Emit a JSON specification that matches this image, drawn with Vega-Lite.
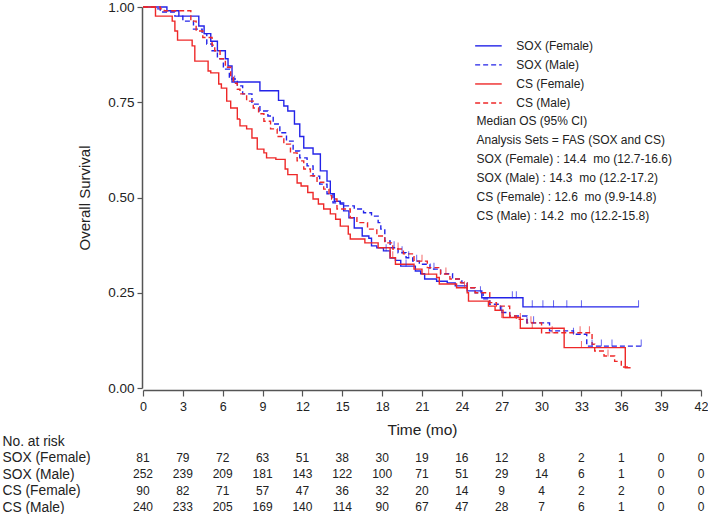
{
  "$schema": "https://vega.github.io/schema/vega-lite/v6.json",
  "padding": {"left": 2, "top": 0, "right": 0, "bottom": 0},
  "background": "white",
  "bounds": "flush",
  "spacing": 45,
  "config": {
    "font": "Liberation Sans",
    "view": {"stroke": null},
    "axis": {"grid": false, "domainColor": "#555555", "domainWidth": 1.5, "tickColor": "#555555", "tickWidth": 1.2, "labelColor": "#222222", "titleColor": "#222222", "titleFontWeight": "normal", "labelFont": "Liberation Sans", "titleFont": "Liberation Sans"},
    "axisX": {"labelOverlap": false, "labelSeparation": -12, "labelFlush": false}
  },
  "datasets": {
    "km": [
      {"g":"SOX (Female)","t":0,"S":1},{"g":"SOX (Female)","t":1.8,"S":0.99},{"g":"SOX (Female)","t":2.7,"S":0.976},{"g":"SOX (Female)","t":4.2,"S":0.95},{"g":"SOX (Female)","t":4.6,"S":0.93},{"g":"SOX (Female)","t":5.1,"S":0.91},{"g":"SOX (Female)","t":5.6,"S":0.885},{"g":"SOX (Female)","t":6.2,"S":0.864},{"g":"SOX (Female)","t":6.4,"S":0.845},{"g":"SOX (Female)","t":6.7,"S":0.803},{"g":"SOX (Female)","t":8.8,"S":0.78},{"g":"SOX (Female)","t":10.2,"S":0.755},{"g":"SOX (Female)","t":10.6,"S":0.74},{"g":"SOX (Female)","t":10.9,"S":0.727},{"g":"SOX (Female)","t":11.4,"S":0.693},{"g":"SOX (Female)","t":11.8,"S":0.66},{"g":"SOX (Female)","t":12.1,"S":0.63},{"g":"SOX (Female)","t":12.8,"S":0.614},{"g":"SOX (Female)","t":13.35,"S":0.57},{"g":"SOX (Female)","t":13.85,"S":0.543},{"g":"SOX (Female)","t":14.1,"S":0.51},{"g":"SOX (Female)","t":14.4,"S":0.49},{"g":"SOX (Female)","t":14.85,"S":0.483},{"g":"SOX (Female)","t":15.1,"S":0.465},{"g":"SOX (Female)","t":15.5,"S":0.447},{"g":"SOX (Female)","t":15.9,"S":0.42},{"g":"SOX (Female)","t":16.5,"S":0.399},{"g":"SOX (Female)","t":17.0,"S":0.393},{"g":"SOX (Female)","t":17.2,"S":0.373},{"g":"SOX (Female)","t":17.6,"S":0.368},{"g":"SOX (Female)","t":18.1,"S":0.36},{"g":"SOX (Female)","t":18.6,"S":0.341},{"g":"SOX (Female)","t":19.0,"S":0.335},{"g":"SOX (Female)","t":19.4,"S":0.32},{"g":"SOX (Female)","t":20.5,"S":0.307},{"g":"SOX (Female)","t":20.9,"S":0.3},{"g":"SOX (Female)","t":21.2,"S":0.286},{"g":"SOX (Female)","t":22.1,"S":0.28},{"g":"SOX (Female)","t":22.9,"S":0.276},{"g":"SOX (Female)","t":23.5,"S":0.268},{"g":"SOX (Female)","t":24.4,"S":0.255},{"g":"SOX (Female)","t":25.5,"S":0.237},{"g":"SOX (Female)","t":28.6,"S":0.213},{"g":"SOX (Female)","t":37.3,"S":0.213},
      {"g":"SOX (Male)","t":0,"S":1},{"g":"SOX (Male)","t":0.9,"S":0.995},{"g":"SOX (Male)","t":1.3,"S":0.987},{"g":"SOX (Male)","t":2.4,"S":0.976},{"g":"SOX (Male)","t":3.0,"S":0.963},{"g":"SOX (Male)","t":3.8,"S":0.942},{"g":"SOX (Male)","t":4.45,"S":0.93},{"g":"SOX (Male)","t":4.8,"S":0.903},{"g":"SOX (Male)","t":5.2,"S":0.885},{"g":"SOX (Male)","t":5.6,"S":0.864},{"g":"SOX (Male)","t":6.05,"S":0.837},{"g":"SOX (Male)","t":6.5,"S":0.811},{"g":"SOX (Male)","t":7.1,"S":0.793},{"g":"SOX (Male)","t":7.5,"S":0.772},{"g":"SOX (Male)","t":8.2,"S":0.745},{"g":"SOX (Male)","t":8.8,"S":0.727},{"g":"SOX (Male)","t":9.4,"S":0.714},{"g":"SOX (Male)","t":9.8,"S":0.693},{"g":"SOX (Male)","t":10.3,"S":0.67},{"g":"SOX (Male)","t":10.8,"S":0.648},{"g":"SOX (Male)","t":11.3,"S":0.622},{"g":"SOX (Male)","t":11.8,"S":0.604},{"g":"SOX (Male)","t":12.35,"S":0.583},{"g":"SOX (Male)","t":12.8,"S":0.556},{"g":"SOX (Male)","t":13.3,"S":0.535},{"g":"SOX (Male)","t":13.85,"S":0.51},{"g":"SOX (Male)","t":14.3,"S":0.486},{"g":"SOX (Male)","t":15.1,"S":0.478},{"g":"SOX (Male)","t":15.9,"S":0.47},{"g":"SOX (Male)","t":16.6,"S":0.46},{"g":"SOX (Male)","t":17.2,"S":0.451},{"g":"SOX (Male)","t":17.7,"S":0.434},{"g":"SOX (Male)","t":17.9,"S":0.417},{"g":"SOX (Male)","t":18.2,"S":0.386},{"g":"SOX (Male)","t":18.6,"S":0.368},{"g":"SOX (Male)","t":19.2,"S":0.355},{"g":"SOX (Male)","t":19.8,"S":0.342},{"g":"SOX (Male)","t":20.3,"S":0.333},{"g":"SOX (Male)","t":20.8,"S":0.325},{"g":"SOX (Male)","t":21.6,"S":0.312},{"g":"SOX (Male)","t":22.4,"S":0.3},{"g":"SOX (Male)","t":23.3,"S":0.286},{"g":"SOX (Male)","t":24.0,"S":0.276},{"g":"SOX (Male)","t":24.4,"S":0.263},{"g":"SOX (Male)","t":25.0,"S":0.25},{"g":"SOX (Male)","t":25.6,"S":0.234},{"g":"SOX (Male)","t":26.1,"S":0.22},{"g":"SOX (Male)","t":26.9,"S":0.198},{"g":"SOX (Male)","t":27.6,"S":0.189},{"g":"SOX (Male)","t":28.9,"S":0.171},{"g":"SOX (Male)","t":30.6,"S":0.15},{"g":"SOX (Male)","t":32.4,"S":0.141},{"g":"SOX (Male)","t":33.4,"S":0.11},{"g":"SOX (Male)","t":37.5,"S":0.11},
      {"g":"CS (Female)","t":0,"S":1},{"g":"CS (Female)","t":0.94,"S":0.976},{"g":"CS (Female)","t":2.2,"S":0.963},{"g":"CS (Female)","t":2.4,"S":0.937},{"g":"CS (Female)","t":2.6,"S":0.913},{"g":"CS (Female)","t":3.7,"S":0.898},{"g":"CS (Female)","t":3.9,"S":0.858},{"g":"CS (Female)","t":4.9,"S":0.832},{"g":"CS (Female)","t":5.1,"S":0.827},{"g":"CS (Female)","t":5.7,"S":0.798},{"g":"CS (Female)","t":5.9,"S":0.787},{"g":"CS (Female)","t":6.3,"S":0.753},{"g":"CS (Female)","t":6.6,"S":0.735},{"g":"CS (Female)","t":7.1,"S":0.706},{"g":"CS (Female)","t":7.3,"S":0.688},{"g":"CS (Female)","t":7.8,"S":0.68},{"g":"CS (Female)","t":8.2,"S":0.656},{"g":"CS (Female)","t":8.6,"S":0.627},{"g":"CS (Female)","t":9.1,"S":0.617},{"g":"CS (Female)","t":9.3,"S":0.604},{"g":"CS (Female)","t":10.0,"S":0.6},{"g":"CS (Female)","t":10.7,"S":0.575},{"g":"CS (Female)","t":10.9,"S":0.56},{"g":"CS (Female)","t":11.6,"S":0.538},{"g":"CS (Female)","t":11.9,"S":0.53},{"g":"CS (Female)","t":12.4,"S":0.513},{"g":"CS (Female)","t":12.8,"S":0.496},{"g":"CS (Female)","t":13.2,"S":0.483},{"g":"CS (Female)","t":13.6,"S":0.47},{"g":"CS (Female)","t":14.1,"S":0.457},{"g":"CS (Female)","t":14.5,"S":0.443},{"g":"CS (Female)","t":14.85,"S":0.425},{"g":"CS (Female)","t":15.45,"S":0.404},{"g":"CS (Female)","t":15.6,"S":0.391},{"g":"CS (Female)","t":16.7,"S":0.381},{"g":"CS (Female)","t":17.7,"S":0.368},{"g":"CS (Female)","t":18.6,"S":0.342},{"g":"CS (Female)","t":19.0,"S":0.325},{"g":"CS (Female)","t":20.4,"S":0.312},{"g":"CS (Female)","t":21.0,"S":0.299},{"g":"CS (Female)","t":22.1,"S":0.29},{"g":"CS (Female)","t":22.3,"S":0.273},{"g":"CS (Female)","t":23.6,"S":0.263},{"g":"CS (Female)","t":24.4,"S":0.25},{"g":"CS (Female)","t":24.5,"S":0.228},{"g":"CS (Female)","t":26.0,"S":0.215},{"g":"CS (Female)","t":26.5,"S":0.204},{"g":"CS (Female)","t":27.1,"S":0.185},{"g":"CS (Female)","t":28.4,"S":0.157},{"g":"CS (Female)","t":31.7,"S":0.106},{"g":"CS (Female)","t":36.3,"S":0.053},{"g":"CS (Female)","t":36.7,"S":0.053},
      {"g":"CS (Male)","t":0,"S":1},{"g":"CS (Male)","t":1.3,"S":0.995},{"g":"CS (Male)","t":1.6,"S":0.99},{"g":"CS (Male)","t":3.6,"S":0.963},{"g":"CS (Male)","t":4.0,"S":0.937},{"g":"CS (Male)","t":4.5,"S":0.92},{"g":"CS (Male)","t":5.2,"S":0.9},{"g":"CS (Male)","t":5.4,"S":0.885},{"g":"CS (Male)","t":5.8,"S":0.864},{"g":"CS (Male)","t":6.2,"S":0.842},{"g":"CS (Male)","t":6.6,"S":0.82},{"g":"CS (Male)","t":6.8,"S":0.8},{"g":"CS (Male)","t":7.1,"S":0.784},{"g":"CS (Male)","t":7.3,"S":0.772},{"g":"CS (Male)","t":7.8,"S":0.753},{"g":"CS (Male)","t":8.3,"S":0.735},{"g":"CS (Male)","t":8.7,"S":0.72},{"g":"CS (Male)","t":9.1,"S":0.7},{"g":"CS (Male)","t":9.6,"S":0.68},{"g":"CS (Male)","t":10.1,"S":0.66},{"g":"CS (Male)","t":10.6,"S":0.64},{"g":"CS (Male)","t":11.1,"S":0.617},{"g":"CS (Male)","t":11.6,"S":0.596},{"g":"CS (Male)","t":12.1,"S":0.575},{"g":"CS (Male)","t":12.6,"S":0.557},{"g":"CS (Male)","t":13.1,"S":0.54},{"g":"CS (Male)","t":13.6,"S":0.522},{"g":"CS (Male)","t":14.0,"S":0.505},{"g":"CS (Male)","t":14.2,"S":0.496},{"g":"CS (Male)","t":14.6,"S":0.47},{"g":"CS (Male)","t":15.6,"S":0.447},{"g":"CS (Male)","t":16.1,"S":0.434},{"g":"CS (Male)","t":16.9,"S":0.417},{"g":"CS (Male)","t":17.6,"S":0.399},{"g":"CS (Male)","t":18.2,"S":0.381},{"g":"CS (Male)","t":18.8,"S":0.365},{"g":"CS (Male)","t":19.6,"S":0.352},{"g":"CS (Male)","t":20.4,"S":0.333},{"g":"CS (Male)","t":21.4,"S":0.316},{"g":"CS (Male)","t":22.4,"S":0.299},{"g":"CS (Male)","t":23.1,"S":0.286},{"g":"CS (Male)","t":23.9,"S":0.276},{"g":"CS (Male)","t":24.4,"S":0.263},{"g":"CS (Male)","t":25.0,"S":0.25},{"g":"CS (Male)","t":26.1,"S":0.224},{"g":"CS (Male)","t":26.6,"S":0.215},{"g":"CS (Male)","t":27.6,"S":0.189},{"g":"CS (Male)","t":28.1,"S":0.18},{"g":"CS (Male)","t":28.9,"S":0.171},{"g":"CS (Male)","t":30.0,"S":0.145},{"g":"CS (Male)","t":33.8,"S":0.115},{"g":"CS (Male)","t":34.0,"S":0.097},{"g":"CS (Male)","t":34.7,"S":0.084},{"g":"CS (Male)","t":35.5,"S":0.07},{"g":"CS (Male)","t":36.0,"S":0.055},{"g":"CS (Male)","t":36.5,"S":0.055}
    ],
    "cens": [
      {"g":"SOX (Female)","t":6.9,"S":0.803},{"g":"SOX (Female)","t":18.3,"S":0.36},{"g":"SOX (Female)","t":19.8,"S":0.32},{"g":"SOX (Female)","t":27.8,"S":0.237},{"g":"SOX (Female)","t":28.1,"S":0.237},{"g":"SOX (Female)","t":29.3,"S":0.213},{"g":"SOX (Female)","t":30.1,"S":0.213},{"g":"SOX (Female)","t":30.9,"S":0.213},{"g":"SOX (Female)","t":31.9,"S":0.213},{"g":"SOX (Female)","t":33.0,"S":0.213},{"g":"SOX (Female)","t":37.3,"S":0.213},
      {"g":"SOX (Male)","t":18.9,"S":0.368},{"g":"SOX (Male)","t":19.5,"S":0.355},{"g":"SOX (Male)","t":20.0,"S":0.342},{"g":"SOX (Male)","t":20.6,"S":0.333},{"g":"SOX (Male)","t":21.9,"S":0.312},{"g":"SOX (Male)","t":25.4,"S":0.25},{"g":"SOX (Male)","t":27.0,"S":0.198},{"g":"SOX (Male)","t":28.9,"S":0.171},{"g":"SOX (Male)","t":29.4,"S":0.171},{"g":"SOX (Male)","t":32.4,"S":0.141},{"g":"SOX (Male)","t":33.8,"S":0.11},{"g":"SOX (Male)","t":34.5,"S":0.11},{"g":"SOX (Male)","t":35.3,"S":0.11},{"g":"SOX (Male)","t":37.5,"S":0.11},
      {"g":"CS (Female)","t":18.8,"S":0.342},{"g":"CS (Female)","t":21.5,"S":0.299},{"g":"CS (Female)","t":24.2,"S":0.263},{"g":"CS (Female)","t":27.0,"S":0.185},{"g":"CS (Female)","t":29.3,"S":0.157},{"g":"CS (Female)","t":33.0,"S":0.106},
      {"g":"CS (Male)","t":19.2,"S":0.365},{"g":"CS (Male)","t":21.0,"S":0.333},{"g":"CS (Male)","t":22.8,"S":0.299},{"g":"CS (Male)","t":28.4,"S":0.18},{"g":"CS (Male)","t":29.2,"S":0.171},{"g":"CS (Male)","t":30.8,"S":0.145},{"g":"CS (Male)","t":32.9,"S":0.145},{"g":"CS (Male)","t":33.6,"S":0.145},{"g":"CS (Male)","t":35.0,"S":0.084}
    ],
    "risk": [
      {"row":"SOX (Female)","t":0,"n":81},{"row":"SOX (Female)","t":3,"n":79},{"row":"SOX (Female)","t":6,"n":72},{"row":"SOX (Female)","t":9,"n":63},{"row":"SOX (Female)","t":12,"n":51},{"row":"SOX (Female)","t":15,"n":38},{"row":"SOX (Female)","t":18,"n":30},{"row":"SOX (Female)","t":21,"n":19},{"row":"SOX (Female)","t":24,"n":16},{"row":"SOX (Female)","t":27,"n":12},{"row":"SOX (Female)","t":30,"n":8},{"row":"SOX (Female)","t":33,"n":2},{"row":"SOX (Female)","t":36,"n":1},{"row":"SOX (Female)","t":39,"n":0},{"row":"SOX (Female)","t":42,"n":0},
      {"row":"SOX (Male)","t":0,"n":252},{"row":"SOX (Male)","t":3,"n":239},{"row":"SOX (Male)","t":6,"n":209},{"row":"SOX (Male)","t":9,"n":181},{"row":"SOX (Male)","t":12,"n":143},{"row":"SOX (Male)","t":15,"n":122},{"row":"SOX (Male)","t":18,"n":100},{"row":"SOX (Male)","t":21,"n":71},{"row":"SOX (Male)","t":24,"n":51},{"row":"SOX (Male)","t":27,"n":29},{"row":"SOX (Male)","t":30,"n":14},{"row":"SOX (Male)","t":33,"n":6},{"row":"SOX (Male)","t":36,"n":1},{"row":"SOX (Male)","t":39,"n":0},{"row":"SOX (Male)","t":42,"n":0},
      {"row":"CS (Female)","t":0,"n":90},{"row":"CS (Female)","t":3,"n":82},{"row":"CS (Female)","t":6,"n":71},{"row":"CS (Female)","t":9,"n":57},{"row":"CS (Female)","t":12,"n":47},{"row":"CS (Female)","t":15,"n":36},{"row":"CS (Female)","t":18,"n":32},{"row":"CS (Female)","t":21,"n":20},{"row":"CS (Female)","t":24,"n":14},{"row":"CS (Female)","t":27,"n":9},{"row":"CS (Female)","t":30,"n":4},{"row":"CS (Female)","t":33,"n":2},{"row":"CS (Female)","t":36,"n":2},{"row":"CS (Female)","t":39,"n":0},{"row":"CS (Female)","t":42,"n":0},
      {"row":"CS (Male)","t":0,"n":240},{"row":"CS (Male)","t":3,"n":233},{"row":"CS (Male)","t":6,"n":205},{"row":"CS (Male)","t":9,"n":169},{"row":"CS (Male)","t":12,"n":140},{"row":"CS (Male)","t":15,"n":114},{"row":"CS (Male)","t":18,"n":90},{"row":"CS (Male)","t":21,"n":67},{"row":"CS (Male)","t":24,"n":47},{"row":"CS (Male)","t":27,"n":28},{"row":"CS (Male)","t":30,"n":7},{"row":"CS (Male)","t":33,"n":6},{"row":"CS (Male)","t":36,"n":1},{"row":"CS (Male)","t":39,"n":0},{"row":"CS (Male)","t":42,"n":0}
    ]
  },
  "vconcat": [
    {
      "width": 558,
      "height": 381,
      "layer": [
        {
          "data": {"name": "km"},
          "mark": {"type": "line", "interpolate": "step-after", "strokeWidth": 1.4},
          "encoding": {
            "x": {"field": "t", "type": "quantitative", "scale": {"domain": [0, 42], "nice": false, "zero": false},
                  "axis": {"values": [0,3,6,9,12,15,18,21,24,27,30,33,36,39,42], "tickCount": 15, "title": "Time (mo)", "titleFontSize": 15.5, "labelFontSize": 12.5, "tickSize": 6, "labelPadding": 4, "offset": 2, "labelFlush": false, "labelOverlap": false, "labelSeparation": -12, "titlePadding": 10}},
            "y": {"field": "S", "type": "quantitative", "scale": {"domain": [0, 1], "nice": false},
                  "axis": {"values": [0, 0.25, 0.5, 0.75, 1], "format": ".2f", "title": "Overall Survival", "titleFontSize": 15, "labelFontSize": 13.5, "tickSize": 5, "labelPadding": 3, "offset": 1, "titlePadding": 15}},
            "color": {"field": "g", "type": "nominal", "scale": {"domain": ["SOX (Female)", "SOX (Male)", "CS (Female)", "CS (Male)"], "range": ["#2323E8", "#2323E8", "#EE2828", "#EE2828"]}, "legend": null},
            "strokeDash": {"field": "g", "type": "nominal", "scale": {"domain": ["SOX (Female)", "SOX (Male)", "CS (Female)", "CS (Male)"], "range": [[1, 0], [5, 3], [1, 0], [5, 3]]}, "legend": null},
            "order": {"field": "t", "type": "quantitative"}
          }
        },
        {
          "data": {"name": "cens"},
          "mark": {"type": "tick", "orient": "vertical", "size": 7, "thickness": 1, "yOffset": -3},
          "encoding": {
            "x": {"field": "t", "type": "quantitative"},
            "y": {"field": "S", "type": "quantitative"},
            "color": {"field": "g", "type": "nominal", "legend": null}
          }
        },
        {
          "data": {"values": [{}]},
          "mark": {"type": "rule", "color": "#2323E8", "strokeWidth": 1.4},
          "encoding": {"x": {"datum": 25.0}, "x2": {"datum": 27.0}, "y": {"datum": 0.898}}
        },
        {
          "data": {"values": [{}]},
          "mark": {"type": "rule", "color": "#2323E8", "strokeWidth": 1.4, "strokeDash": [5, 3]},
          "encoding": {"x": {"datum": 25.0}, "x2": {"datum": 27.0}, "y": {"datum": 0.848}}
        },
        {
          "data": {"values": [{}]},
          "mark": {"type": "rule", "color": "#EE2828", "strokeWidth": 1.4},
          "encoding": {"x": {"datum": 25.0}, "x2": {"datum": 27.0}, "y": {"datum": 0.798}}
        },
        {
          "data": {"values": [{}]},
          "mark": {"type": "rule", "color": "#EE2828", "strokeWidth": 1.4, "strokeDash": [5, 3]},
          "encoding": {"x": {"datum": 25.0}, "x2": {"datum": 27.0}, "y": {"datum": 0.748}}
        },
        {
          "data": {"values": [{}]},
          "mark": {"type": "text", "align": "left", "baseline": "top", "fontSize": 12, "lineHeight": 19, "color": "#222222",
                   "text": ["SOX (Female)", "SOX (Male)", "CS (Female)", "CS (Male)"]},
          "encoding": {"x": {"datum": 28.1}, "y": {"datum": 0.911}}
        },
        {
          "data": {"values": [{}]},
          "mark": {"type": "text", "align": "left", "baseline": "top", "fontSize": 12, "lineHeight": 19, "color": "#222222",
                   "text": ["Median OS (95% CI)", "Analysis Sets = FAS (SOX and CS)", "SOX (Female) : 14.4\u00a0 mo (12.7-16.6)", "SOX (Male) : 14.3\u00a0 mo (12.2-17.2)", "CS (Female) : 12.6\u00a0 mo (9.9-14.8)", "CS (Male) : 14.2\u00a0 mo (12.2-15.8)"]},
          "encoding": {"x": {"datum": 25.1}, "y": {"datum": 0.714}}
        }
      ]
    },
    {
      "width": 558,
      "height": 82.5,
      "data": {"name": "risk"},
      "mark": {"type": "text", "fontSize": 12, "color": "#222222"},
      "encoding": {
        "x": {"field": "t", "type": "quantitative", "scale": {"domain": [0, 42], "nice": false, "zero": false}, "axis": null},
        "y": {"field": "row", "type": "nominal",
              "scale": {"type": "point", "padding": 0.5, "domain": ["No. at risk", "SOX (Female)", "SOX (Male)", "CS (Female)", "CS (Male)"]},
              "axis": {"title": null, "domain": false, "ticks": false, "tickSize": 0, "labelAlign": "left", "labelPadding": 141, "labelFontSize": 13.8, "labelColor": "#222222"}},
        "text": {"field": "n", "type": "quantitative"}
      }
    }
  ]
}
